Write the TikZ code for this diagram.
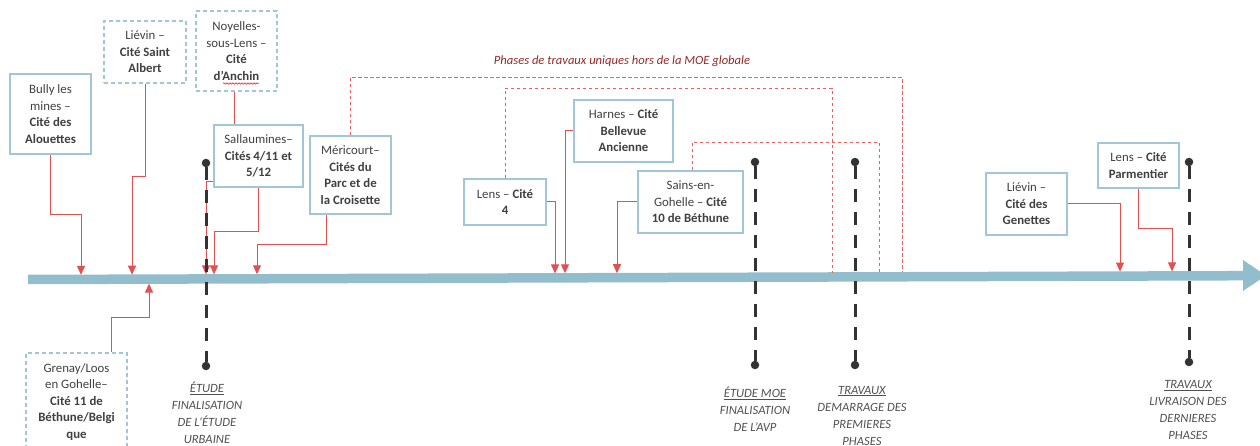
\documentclass[tikz,border=0pt]{standalone}
\usepackage{fontspec}
\setmainfont{Carlito}
\usetikzlibrary{arrows.meta,decorations.pathmorphing}
\definecolor{barblue}{RGB}{146,189,204}
\definecolor{boxblue}{RGB}{160,198,215}
\definecolor{conred}{RGB}{226,80,80}
\definecolor{dashred}{RGB}{232,96,96}
\definecolor{txtgray}{RGB}{64,64,64}
\definecolor{lblgray}{RGB}{80,80,80}
\definecolor{titlered}{RGB}{150,40,40}
\definecolor{milestone}{RGB}{51,51,51}
\pgfdeclarelayer{bg}
\pgfsetlayers{bg,main}
\tikzset{
 box/.style={draw=boxblue, line width=1.2pt, fill=white, text=txtgray, align=center, inner sep=0pt, font=\fontsize{12.8}{16.5}\selectfont},
 dbox/.style={box, dash pattern=on 4pt off 3pt},
 conn/.style={draw=conred, line width=1pt, -{Triangle[width=8pt,length=9pt]}},
 phase/.style={draw=dashred, line width=0.9pt, dash pattern=on 3.5pt off 2.5pt},
 mile/.style={draw=milestone, line width=3pt, dash pattern=on 13pt off 10pt},
 mdot/.style={fill=milestone, circle, inner sep=0pt, minimum size=8.5pt},
 mlabel/.style={text=lblgray, align=center, font=\fontsize{12.6}{17}\selectfont\itshape},
}
\begin{document}
\begin{tikzpicture}[x=1pt,y=-1pt]
\useasboundingbox (0,0) rectangle (1260,446);

% boxes
\node[box, minimum width=81pt, minimum height=80pt] (bully) at (50.5,114) {Bully les\\mines –\\\textbf{Cité des}\\\textbf{Alouettes}};
\node[dbox, minimum width=82pt, minimum height=62pt] (stalbert) at (145,52) {Liévin –\\\textbf{Cité Saint}\\\textbf{Albert}};
\node[dbox, minimum width=81pt, minimum height=80pt] (anchin) at (236.5,51) {Noyelles-\\sous-Lens –\\\textbf{Cité}\\\textbf{d’Anchin}};
\node[box, minimum width=89pt, minimum height=62pt] (sallau) at (258.5,156) {Sallaumines–\\\textbf{Cités 4/11 et}\\\textbf{5/12}};
\node[box, minimum width=81pt, minimum height=78pt] (meric) at (350.5,175) {Méricourt–\\\textbf{Cités du}\\\textbf{Parc et de}\\\textbf{la Croisette}};
\node[dbox, minimum width=101pt, minimum height=98pt] (grenay) at (76.5,402) {Grenay/Loos\\en Gohelle–\\\textbf{Cité 11 de}\\\textbf{Béthune/Belgi}\\\textbf{que}};
\node[box, minimum width=82pt, minimum height=46pt] (lens4) at (505,202) {Lens – \textbf{Cité}\\\textbf{4}};
\node[box, minimum width=99pt, minimum height=62pt] (harnes) at (623.5,131) {Harnes – \textbf{Cité}\\\textbf{Bellevue}\\\textbf{Ancienne}};
\node[box, minimum width=105pt, minimum height=62pt] (sains) at (690.5,202) {Sains-en-\\Gohelle – \textbf{Cité}\\\textbf{10 de Béthune}};
\node[box, minimum width=81pt, minimum height=62pt] (genettes) at (1026.5,204) {Liévin –\\\textbf{Cité des}\\\textbf{Genettes}};
\node[box, minimum width=81pt, minimum height=45pt] (parm) at (1138.5,165.5) {Lens – \textbf{Cité}\\\textbf{Parmentier}};

% spell-check squiggle
\draw[red, line width=0.5pt, decorate, decoration={snake, amplitude=0.8pt, segment length=3pt}] (223,83.5) -- (259,83.5);

% title
\node[text=titlered, font=\fontsize{12.6}{14}\selectfont\itshape] (title) at (622,61) {Phases de travaux uniques hors de la MOE globale};

% bar end coordinates
\coordinate (ab) at (81,274.8);
\coordinate (asa) at (132,274.7);
\coordinate (aan) at (206,274.4);
\coordinate (asl) at (214,274.4);
\coordinate (ame) at (257,274.3);
\coordinate (agr) at (149,283.6);
\coordinate (al4) at (555,273.4);
\coordinate (aha) at (565,273.3);
\coordinate (asg) at (617,273.2);
\coordinate (age) at (1120,271.6);
\coordinate (apa) at (1172,271.4);
\coordinate (d1) at (902,272.3);
\coordinate (d2) at (832,272.5);
\coordinate (d3) at (879,272.3);

\begin{pgfonlayer}{bg}
\draw[barblue, line width=9.5pt] (28,279.5) -- (1244,275.7);
\fill[barblue] (1243,260) -- (1266,275.5) -- (1243,291) -- cycle;
\draw[conn] (bully.south) -- (50.5,215) -| (ab);
\draw[conn] (stalbert.south) -- (145,177) -| (asa);
\draw[conn] ([xshift=-2.5pt]anchin.south) -- (234,182) -| (aan);
\draw[conn] (sallau.south) -- (258.5,232) -| (asl);
\draw[conn] ([xshift=-24.5pt]meric.south) -- (326,245) -| (ame);
\draw[conn] ([xshift=34.5pt]grenay.north) -- (111,317) -| (agr);
\draw[conn] (lens4.east) -| (al4);
\draw[conn] (harnes.west) -| (aha);
\draw[conn] (sains.west) -| (asg);
\draw[conn] (genettes.east) -| (age);
\draw[conn] (parm.south) -- (1138.5,229) -| (apa);
\draw[phase] (meric.north) -- (350.5,77) -| (d1);
\draw[phase] (lens4.north) -- (505,88) -| (d2);
\draw[phase] ([xshift=1.5pt]sains.north) -- (692,142) -| (d3);
\end{pgfonlayer}

% milestones
\node[mdot] (m1t) at (206,163) {};
\node[mdot] (m1b) at (206,366) {};
\node[mdot] (m2t) at (755,162) {};
\node[mdot] (m2b) at (755,365) {};
\node[mdot] (m3t) at (855,162) {};
\node[mdot] (m3b) at (855,365) {};
\node[mdot] (m4t) at (1189,162) {};
\node[mdot] (m4b) at (1189,362) {};
\draw[mile] (m1t) -- (m1b);
\draw[mile] (m2t) -- (m2b);
\draw[mile] (m3t) -- (m3b);
\draw[mile] (m4t) -- (m4b);

\node[mlabel] (l1) at (207,413) {\underline{ÉTUDE}\\FINALISATION\\DE L’ÉTUDE\\URBAINE};
\node[mlabel] (l2) at (755,409) {\underline{ÉTUDE MOE}\\FINALISATION\\DE L’AVP};
\node[mlabel] (l3) at (862,415.5) {\underline{TRAVAUX}\\DEMARRAGE DES\\PREMIERES\\PHASES};
\node[mlabel] (l4) at (1188,410) {\underline{TRAVAUX}\\LIVRAISON DES\\DERNIERES\\PHASES};
\end{tikzpicture}
\end{document}
